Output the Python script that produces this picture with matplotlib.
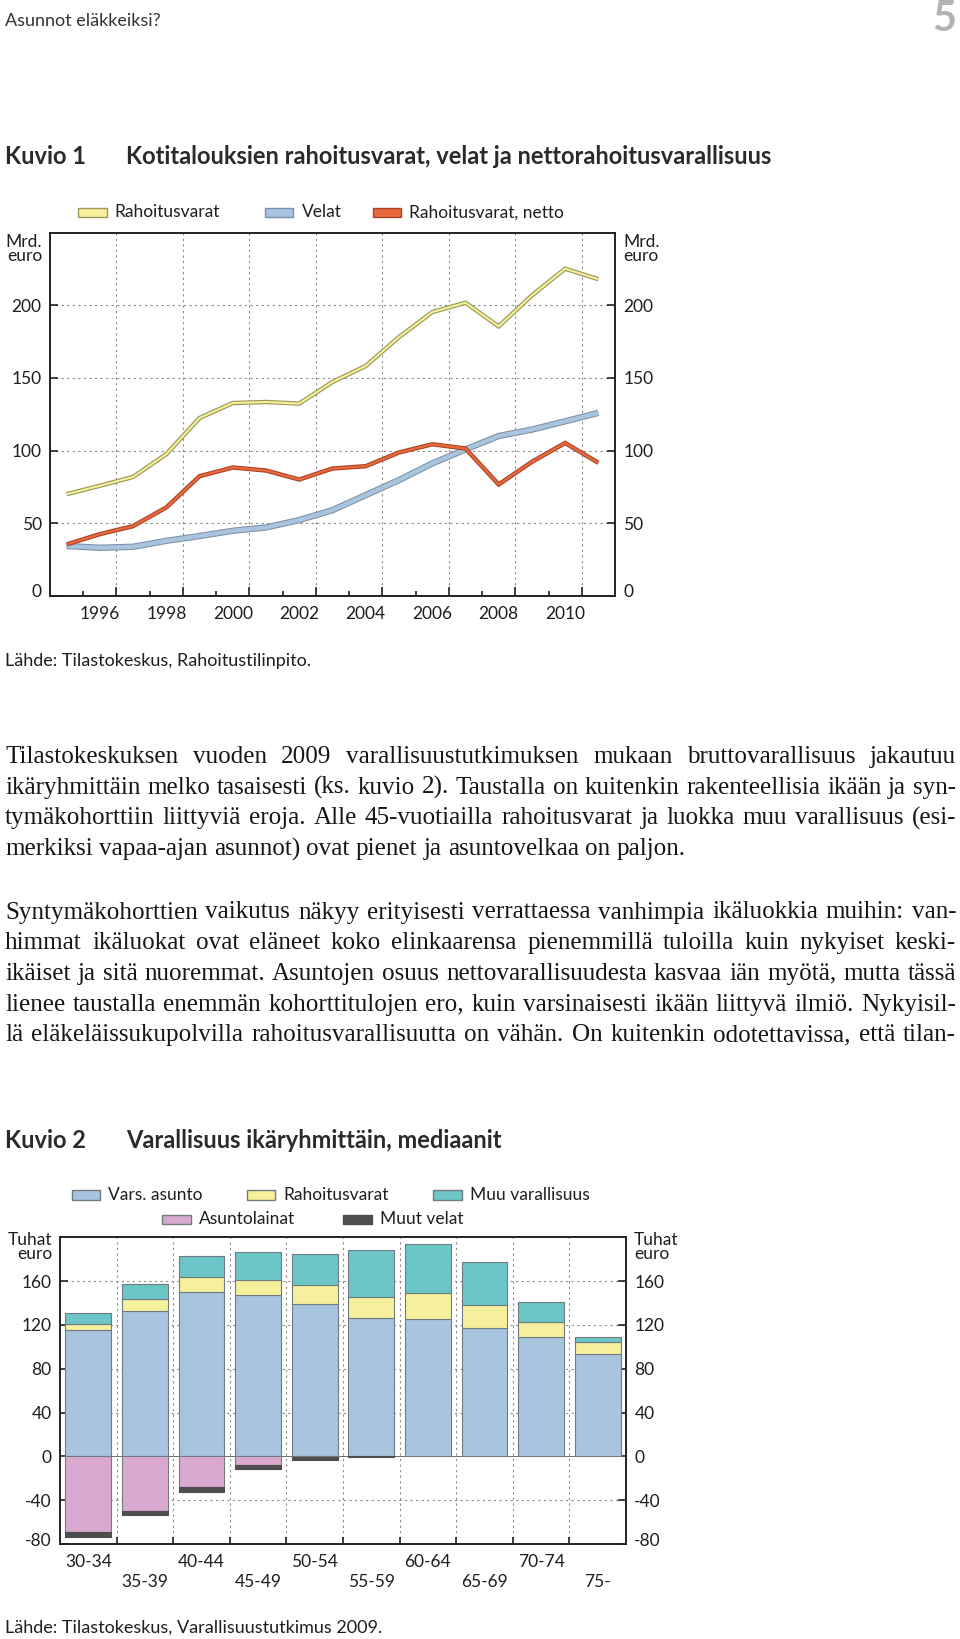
import matplotlib.pyplot as plt
import matplotlib.transforms as mtransforms
from matplotlib.patches import Rectangle
from matplotlib.font_manager import FontProperties
import numpy as np

W, H = 960, 1639
SANS = ['Lato', 'DejaVu Sans']
SERIF = 'Liberation Serif'
plt.rcParams['font.family'] = SANS
plt.rcParams['axes.unicode_minus'] = False

# Kuvio 1: annual values, Mrd. euro
years = np.arange(1995, 2012)
rahoitusvarat = [69.9, 75.7, 81.8, 97.5, 122.4, 132.7, 133.4, 132.3, 147.2,
                 158.2, 178.1, 195.3, 201.8, 185.5, 206.8, 225.2, 218.0]
velat = [34.2, 33.0, 33.7, 37.8, 41.1, 44.7, 47.0, 52.1, 58.9,
         69.3, 79.6, 91.1, 100.7, 110.0, 114.4, 120.1, 125.9]
netto = [35.3, 42.4, 47.9, 60.8, 82.3, 88.3, 86.2, 80.0, 87.6,
         89.2, 98.6, 104.3, 101.4, 76.6, 92.2, 105.2, 91.5]
series1_names = ['Rahoitusvarat', 'Velat', 'Rahoitusvarat, netto']
year_labels = [1996, 1998, 2000, 2002, 2004, 2006, 2008, 2010]

# Kuvio 2: medians by age group, tuhat euro
age_groups = ['30-34', '35-39', '40-44', '45-49', '50-54',
              '55-59', '60-64', '65-69', '70-74', '75-']
vars_asunto = [115.2, 132.7, 150.3, 147.0, 139.4, 126.1, 125.2, 117.3, 108.8, 93.9]
rahoitusvarat2 = [6.0, 11.2, 13.3, 13.9, 16.7, 19.4, 24.2, 21.2, 14.2, 10.9]
muu_varallisuus = [9.4, 13.4, 19.7, 25.5, 28.4, 43.3, 44.5, 39.4, 17.6, 4.0]
asuntolainat = [69.4, 50.0, 27.9, 7.6, 0.3, 0, 0, 0, 0, 0]
muut_velat = [3.9, 3.6, 4.2, 4.2, 3.0, 1.0, 0, 0, 0, 0]
series2_names = ['Vars. asunto', 'Rahoitusvarat', 'Muu varallisuus',
                 'Asuntolainat', 'Muut velat']

para1 = [
    "Tilastokeskuksen vuoden 2009 varallisuustutkimuksen mukaan bruttovarallisuus jakautuu",
    "ikäryhmittäin melko tasaisesti (ks. kuvio 2). Taustalla on kuitenkin rakenteellisia ikään ja syn-",
    "tymäkohorttiin liittyviä eroja. Alle 45-vuotiailla rahoitusvarat ja luokka muu varallisuus (esi-",
    "merkiksi vapaa-ajan asunnot) ovat pienet ja asuntovelkaa on paljon.",
]
para2 = [
    "Syntymäkohorttien vaikutus näkyy erityisesti verrattaessa vanhimpia ikäluokkia muihin: van-",
    "himmat ikäluokat ovat eläneet koko elinkaarensa pienemmillä tuloilla kuin nykyiset keski-",
    "ikäiset ja sitä nuoremmat. Asuntojen osuus nettovarallisuudesta kasvaa iän myötä, mutta tässä",
    "lienee taustalla enemmän kohorttitulojen ero, kuin varsinaisesti ikään liittyvä ilmiö. Nykyisil-",
    "lä eläkeläissukupolvilla rahoitusvarallisuutta on vähän. On kuitenkin odotettavissa, että tilan-",
]

# colours
YEL, YEL_E = '#f6f09c', '#9c9a5a'
BLU, BLU_E = '#a8c4df', '#7d91a4'
RED, RED_E = '#e8693a', '#a8452c'
TEAL, PINK, DARK = '#6cc5c6', '#d9a9cf', '#4d4d4f'
BAR_E = '#6f7c82'
TXT = '#1e1e1e'
GRID = '#8c8c8c'
FS = 12.5
TITLE_FS = 17

fig = plt.figure(figsize=(W / 100, H / 100), dpi=100)
renderer = fig.canvas.get_renderer()


def fx(x):
    return x / W


def fy(y):
    return 1 - y / H


def ftext(x, y, s, **kw):
    kw.setdefault('color', TXT)
    return fig.text(fx(x), fy(y), s, **kw)


def legend_item(x, y, name, fc, ec):
    fig.patches.append(Rectangle((fx(x), fy(y + 4.7)), 28.4 / W, 9.4 / H,
                                 transform=fig.transFigure, fc=fc, ec=ec, lw=1))
    ftext(x + 36.5, y, name, fontsize=FS, va='center')


def lift_bottom_label(ax, px=5):
    # the lowest y label sits a little above the bottom spine
    t = ax.yaxis.get_major_ticks()[0]
    off = mtransforms.ScaledTranslation(0, px / 100, fig.dpi_scale_trans)
    t.label1.set_transform(t.label1.get_transform() + off)
    t.label2.set_transform(t.label2.get_transform() + off)


# header
ftext(5, 21, 'Asunnot eläkkeiksi?', fontsize=13, va='center', color='#333333')
ftext(956, 19, '5', fontsize=30, fontweight='bold', va='center', ha='right', color='#b3b3b3')

# ---------------- Kuvio 1 ----------------
ftext(5, 157, 'Kuvio 1', fontsize=TITLE_FS, fontweight='bold', va='center', color='#2a2a2a')
ftext(126.5, 157, 'Kotitalouksien rahoitusvarat, velat ja nettorahoitusvarallisuus',
      fontsize=TITLE_FS, fontweight='bold', va='center', color='#2a2a2a')

for x, name, fc, ec in zip([78.3, 265, 372.7], series1_names,
                           [YEL, BLU, RED], [YEL_E, BLU_E, RED_E]):
    legend_item(x, 212.3, name, fc, ec)

ax1 = fig.add_axes([fx(50), fy(595.7), (615 - 50) / W, (595.7 - 232.7) / H])
ax1.set_xlim(1995, 2012)
ax1.set_ylim(0, 250)
ax1.set_yticks([0, 50, 100, 150, 200])
ax1.set_xticks(range(1997, 2012, 2))
ax1.set_xticks(range(1996, 2012, 2), minor=True)
ax1.tick_params(axis='x', which='major', direction='in', length=6.5, width=1.2,
                labelbottom=False, color='#222222')
ax1.tick_params(axis='x', which='minor', direction='in', length=3.6, width=1.2,
                color='#222222')
ax1.tick_params(axis='y', direction='in', length=5.8, width=1.2, left=True, right=True,
                labelleft=True, labelright=True, pad=6, labelsize=FS,
                labelcolor=TXT, color='#222222')
ax1.grid(axis='x', which='major', linestyle=(0, (2, 3)), color=GRID, lw=0.8)
ax1.grid(axis='y', linestyle=(0, (2, 3)), color=GRID, lw=0.8)
ax1.set_axisbelow(True)
for sp in ax1.spines.values():
    sp.set_linewidth(1.4)
    sp.set_color('#222222')
lift_bottom_label(ax1)

xs = years + 0.5
for vals, fc, ec, wo, wi in [(rahoitusvarat, YEL, YEL_E, 3.2, 1.5),
                             (velat, BLU, BLU_E, 4.6, 3.1),
                             (netto, RED, RED_E, 3.2, 1.6)]:
    ax1.plot(xs, vals, color=ec, lw=wo, solid_joinstyle='miter', solid_capstyle='butt')
    ax1.plot(xs, vals, color=fc, lw=wi, solid_joinstyle='miter', solid_capstyle='butt')

tr1 = mtransforms.blended_transform_factory(ax1.transData, fig.transFigure)
for yr in year_labels:
    ax1.text(yr + 0.5, fy(614), str(yr), transform=tr1, ha='center', va='center',
             fontsize=FS, color=TXT)

for x, ha in [(42, 'right'), (623, 'left')]:
    ftext(x, 249, 'Mrd.\neuro', fontsize=FS, ha=ha, va='center', linespacing=0.92)

ftext(5, 661, 'Lähde: Tilastokeskus, Rahoitustilinpito.', fontsize=13, va='center')

# ---------------- body text (justified) ----------------
LEFT, RIGHT = 5, 956
LS = 30.7


def text_w(s, size):
    w, _, _ = renderer.get_text_width_height_descent(
        s, FontProperties(family=SERIF, size=size), ismath=False)
    return w


# pick the size at which the tightest justified line just fits
base = 15.0
full_lines = para1[:-1] + para2
BODY = min(base * (RIGHT - LEFT) / text_w(l, base) for l in full_lines)


def justify(lines, y0, ragged_last):
    for i, line in enumerate(lines):
        words = line.split(' ')
        yb = y0 + i * LS
        widths = [text_w(w, BODY) for w in words]
        if ragged_last and i == len(lines) - 1:
            gap = text_w('a a', BODY) - text_w('aa', BODY)
        else:
            gap = (RIGHT - LEFT - sum(widths)) / (len(words) - 1)
        x = LEFT
        for w, wd in zip(words, widths):
            ftext(x, yb, w, fontfamily=SERIF, fontsize=BODY, va='baseline',
                  color='#161616')
            x += wd + gap


justify(para1, 763, True)
justify(para2, 918.5, False)

# ---------------- Kuvio 2 ----------------
ftext(5, 1140, 'Kuvio 2', fontsize=TITLE_FS, fontweight='bold', va='center', color='#2a2a2a')
ftext(126.5, 1140, 'Varallisuus ikäryhmittäin, mediaanit',
      fontsize=TITLE_FS, fontweight='bold', va='center', color='#2a2a2a')

leg2 = [(71.7, 1195), (246.7, 1195), (433.3, 1195), (162.3, 1219.3), (343.3, 1219.3)]
for (x, y), name, fc in zip(leg2, series2_names, [BLU, YEL, TEAL, PINK, DARK]):
    legend_item(x, y, name, fc, BAR_E if fc != DARK else DARK)

ax2 = fig.add_axes([fx(60), fy(1544), (626 - 60) / W, (1544 - 1237.3) / H])
ax2.set_xlim(0, 10)
ax2.set_ylim(-80, 200)
ax2.set_yticks([-80, -40, 0, 40, 80, 120, 160])
ax2.set_xticks(range(1, 10))
ax2.tick_params(axis='x', direction='in', length=5, width=1.2, labelbottom=False,
                color='#222222')
ax2.tick_params(axis='y', direction='in', length=5.8, width=1.2, left=True, right=True,
                labelleft=True, labelright=True, pad=6, labelsize=FS,
                labelcolor=TXT, color='#222222')
ax2.grid(axis='x', linestyle=(0, (2, 3)), color=GRID, lw=0.8)
for v in [-40, 40, 80, 120, 160]:
    ax2.axhline(v, linestyle=(0, (2, 3)), color=GRID, lw=0.8, zorder=0.5)
ax2.set_axisbelow(True)
for sp in ax2.spines.values():
    sp.set_linewidth(1.4)
    sp.set_color('#222222')
lift_bottom_label(ax2)

pos = np.arange(len(age_groups)) + 0.5
bw = 0.81
va_ = np.array(vars_asunto)
rv_ = np.array(rahoitusvarat2)
mv_ = np.array(muu_varallisuus)
al_ = np.array(asuntolainat)
mu_ = np.array(muut_velat)
ax2.bar(pos, va_, bw, color=BLU, edgecolor=BAR_E, lw=0.8, zorder=2)
ax2.bar(pos, rv_, bw, bottom=va_, color=YEL, edgecolor=BAR_E, lw=0.8, zorder=2)
ax2.bar(pos, mv_, bw, bottom=va_ + rv_, color=TEAL, edgecolor=BAR_E, lw=0.8, zorder=2)
neg = al_ > 0
ax2.bar(pos[neg], -al_[neg], bw, color=PINK, edgecolor=BAR_E, lw=0.8, zorder=2)
negm = mu_ > 0
ax2.bar(pos[negm], -mu_[negm], bw, bottom=-al_[negm], color=DARK, edgecolor=DARK,
        lw=0.8, zorder=2)
ax2.axhline(0, color='#555555', lw=0.6, zorder=1.5)

tr2 = mtransforms.blended_transform_factory(ax2.transData, fig.transFigure)
for i, lab in enumerate(age_groups):
    yy = 1561.7 if i % 2 == 0 else 1581.7
    ax2.text(pos[i], fy(yy), lab, transform=tr2, ha='center', va='center',
             fontsize=FS, color=TXT)

ftext(52, 1247, 'Tuhat\neuro', fontsize=FS, ha='right', va='center', linespacing=0.92)
ftext(634, 1247, 'Tuhat\neuro', fontsize=FS, ha='left', va='center', linespacing=0.92)

ftext(5, 1628, 'Lähde: Tilastokeskus, Varallisuustutkimus 2009.', fontsize=13, va='center')

fig.savefig('out.png', dpi=100)
